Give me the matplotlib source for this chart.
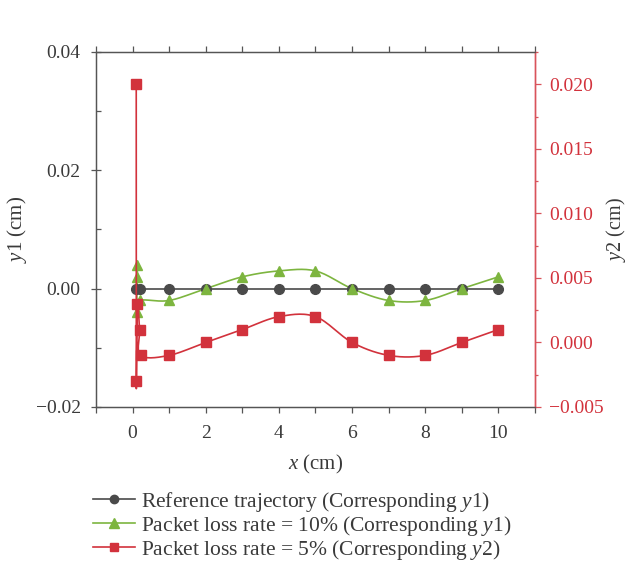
import numpy as np
import matplotlib
matplotlib.use("Agg")
import matplotlib.pyplot as plt
from matplotlib.ticker import MultipleLocator, FuncFormatter

plt.rcParams['font.family'] = ['Liberation Serif', 'DejaVu Serif']
plt.rcParams['mathtext.fontset'] = 'custom'
plt.rcParams['mathtext.rm'] = 'Liberation Serif'
plt.rcParams['mathtext.it'] = 'Liberation Serif:italic'

# ---- data ----
ref_x = [0.1, 0.2, 1, 2, 3, 4, 5, 6, 7, 8, 9, 10]
ref_y = [0, 0, 0, 0, 0, 0, 0, 0, 0, 0, 0, 0]

loss10_x = [0.13, 0.13, 0.11, 0.19, 1, 2, 3, 4, 5, 6, 7, 8, 9, 10]
loss10_y = [0.004, 0.002, -0.004, -0.002, -0.002, 0, 0.002, 0.003, 0.003, 0, -0.002, -0.002, 0, 0.002]

loss5_x = [0.1, 0.1, 0.13, 0.19, 0.22, 1, 2, 3, 4, 5, 6, 7, 8, 9, 10]
loss5_y = [0.020, -0.003, 0.003, 0.001, -0.001, -0.001, 0, 0.001, 0.002, 0.002, 0, -0.001, -0.001, 0, 0.001]

labels = ['Reference trajectory (Corresponding $y$1)',
          'Packet loss rate = 10% (Corresponding $y$1)',
          'Packet loss rate = 5% (Corresponding $y$2)']

C_REF = '#4a4a4a'
C_G = '#7db53f'
C_R = '#d2323c'
C_RAX = '#d9535b'
C_TXT = '#3a3a3a'


def smooth(x, y, n=16):
    x = np.asarray(x, float); y = np.asarray(y, float)
    px = np.concatenate([[2*x[0]-x[1]], x, [2*x[-1]-x[-2]]])
    py = np.concatenate([[2*y[0]-y[1]], y, [2*y[-1]-y[-2]]])
    t = np.linspace(0, 1, n, endpoint=False)
    ox, oy = [], []
    for i in range(1, len(px)-2):
        for P, out in ((px, ox), (py, oy)):
            p0, p1, p2, p3 = P[i-1], P[i], P[i+1], P[i+2]
            out.extend(0.5*((2*p1) + (-p0+p2)*t + (2*p0-5*p1+4*p2-p3)*t**2 + (-p0+3*p1-3*p2+p3)*t**3))
    ox.append(x[-1]); oy.append(y[-1])
    return np.array(ox), np.array(oy)


def fmt(d):
    return FuncFormatter(lambda v, p: (('%.' + str(d) + 'f') % v).replace('-', '\u2212'))


fig = plt.figure(figsize=(6.27, 5.69), dpi=100)
ax = fig.add_axes([96/627, 1-407/569, (535-96)/627, (407-52)/569])
ax2 = ax.twinx()

# reference
ax.plot(ref_x, ref_y, color=C_REF, lw=1.2, zorder=2)
ax.plot(ref_x, ref_y, 'o', color=C_REF, ms=7, zorder=3)
# 10%
sx, sy = smooth(loss10_x, loss10_y)
ax.plot(sx, sy, color=C_G, lw=1.2, zorder=2)
ax.plot(loss10_x, loss10_y, '^', color=C_G, ms=7.5, zorder=3)
# 5%
sx, sy = smooth(loss5_x, loss5_y)
ax2.plot(sx, sy, color=C_R, lw=1.2, zorder=2)
ax2.plot(loss5_x, loss5_y, 's', color=C_R, ms=6.5, zorder=3)

ax.set_xlim(-1, 11)
ax.set_ylim(-0.02, 0.04)
ax2.set_ylim(-0.005, 0.0225)

ax.xaxis.set_major_locator(MultipleLocator(2))
ax.xaxis.set_minor_locator(MultipleLocator(1))
ax.yaxis.set_major_locator(MultipleLocator(0.02))
ax.yaxis.set_minor_locator(MultipleLocator(0.01))
ax.yaxis.set_major_formatter(fmt(2))
ax2.yaxis.set_major_locator(MultipleLocator(0.005))
ax2.yaxis.set_minor_locator(MultipleLocator(0.0025))
ax2.yaxis.set_major_formatter(fmt(3))

TS = 14
ax.tick_params(axis='x', which='both', direction='out', top=True, length=4.3, width=0.9,
               color='#555555', labelsize=TS, labelcolor=C_TXT, pad=9)
ax.tick_params(axis='y', which='major', direction='inout', length=7, width=0.9,
               color='#555555', labelsize=TS, labelcolor=C_TXT, pad=7.5)
ax.tick_params(axis='y', which='minor', direction='in', length=3.5, width=0.9, color='#555555')
ax2.tick_params(axis='y', which='major', direction='out', length=4.5, width=0.9,
                color=C_RAX, labelsize=TS, labelcolor=C_R, pad=5.5)
ax2.tick_params(axis='y', which='minor', direction='out', length=2.5, width=0.9, color=C_RAX)

for a in (ax, ax2):
    for s in ('left', 'top', 'bottom'):
        a.spines[s].set_color('#555555')
        a.spines[s].set_linewidth(0.9)
    a.spines['right'].set_color(C_RAX)
    a.spines['right'].set_linewidth(1.0)

ax.set_xlabel('$x$ (cm)', fontsize=15, color=C_TXT, labelpad=7.5)
ax.set_ylabel('$y$1 (cm)', fontsize=15, color=C_TXT, labelpad=4.5)
ax2.set_ylabel('$y$2 (cm)', fontsize=14.5, color=C_TXT, labelpad=0)

h1, = ax.plot([], [], '-o', color=C_REF, ms=6, lw=1.2)
h2, = ax.plot([], [], '-^', color=C_G, ms=6.5, lw=1.2)
h3, = ax.plot([], [], '-s', color=C_R, ms=5.5, lw=1.2)
fig.legend([h1, h2, h3], labels, loc='upper left', bbox_to_anchor=(93/627, 1-490/569),
           frameon=False, fontsize=15.5, handlelength=1.95, handletextpad=0.3,
           labelspacing=0.0, labelcolor=C_TXT, borderaxespad=0, borderpad=0)

fig.savefig('out.png', dpi=100)
